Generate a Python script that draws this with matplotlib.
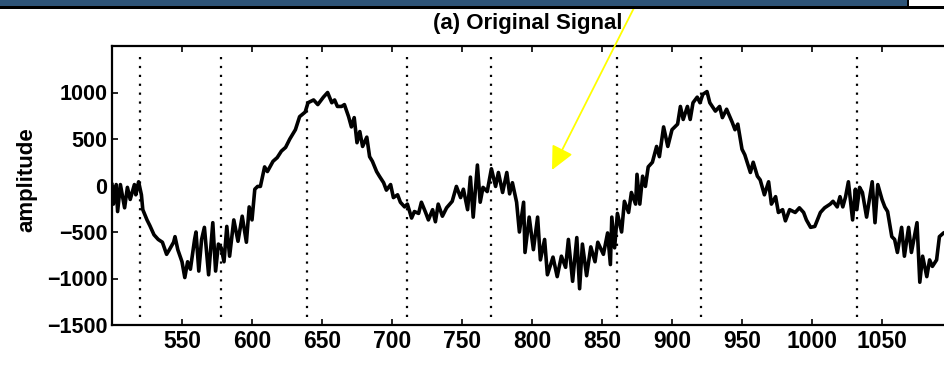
import matplotlib

matplotlib.use("Agg")
import matplotlib.pyplot as plt
from matplotlib.patches import Rectangle

# signal vertices (sample index, amplitude)
sample_x = [
    500, 501, 503, 504, 506, 509, 511, 513, 516, 517, 519, 521, 522, 525, 527, 530,
    533, 536, 539, 541, 544, 545, 547, 550, 552, 554, 556, 559, 560, 562, 564, 566,
    569, 571, 572, 574, 576, 578, 580, 582, 584, 587, 590, 593, 596, 598, 600, 602,
    604, 606, 609, 611, 615, 618, 621, 624, 627, 631, 634, 638, 640, 644, 647,
    651, 654, 657, 659, 661, 664, 666, 669, 671, 673, 675, 677, 679, 682, 684, 686,
    689, 691, 694, 696, 699, 701, 704, 706, 709, 711, 714, 716, 719, 721, 724, 726,
    729, 731, 733, 736, 739, 743, 746, 749, 751, 754, 756, 758, 761, 763, 765, 768,
    771, 774, 776, 779, 782, 784, 786, 789, 791, 794, 795, 798, 801,
    804, 806, 809, 811, 815, 818, 821, 824, 826, 829, 832, 834, 836, 839, 842, 845,
    847, 851, 854, 856, 857, 859, 861, 864, 866, 869, 871, 874, 875, 877,
    879, 881, 883, 886, 889, 891, 894, 897, 900, 904, 906, 908, 911, 913, 915, 918,
    920, 922, 925, 927, 931, 934, 936, 939, 943, 945, 947, 950, 952,
    956, 958, 961, 963, 966, 969, 971, 974, 976, 979, 981, 984, 988, 991, 994, 996,
    999, 1002, 1006, 1009, 1013, 1015, 1018, 1020,
    1022, 1024, 1026, 1029, 1031, 1032, 1034, 1036, 1039, 1043, 1045, 1047, 1050, 1052,
    1054, 1057, 1059, 1061, 1064, 1066, 1069, 1071, 1075, 1077, 1079, 1082, 1084, 1086,
    1089, 1091, 1094, 1099,
]
amplitude = [
    10, -200, 10, -280, 10, -240, -20, -150, 10, -100, 40, -100, -260, -370, -430, -530,
    -580, -610, -740, -690, -610, -550, -690, -820, -990, -820, -900, -580, -500, -920, -580, -450,
    -960, -580, -400, -920, -630, -670, -820, -440, -760, -370, -600, -330, -610, -230, -370, -40,
    -10, -10, 200, 150, 260, 300, 370, 410, 500, 600, 740, 790, 890, 920, 870,
    950, 1000, 890, 920, 850, 850, 870, 740, 630, 730, 460, 580, 420, 520, 310, 260,
    150, 100, 30, -50, 10, -130, -100, -180, -230, -200, -350, -280, -300, -180, -290, -370,
    -260, -390, -200, -330, -240, -170, -10, -130, -40, -260, 90, -340, 220, -180, -20, -65,
    180, -10, 140, -75, 140, -90, 30, -180, -500, -180, -720, -340, -690,
    -340, -800, -580, -960, -770, -980, -760, -880, -580, -1030, -560, -1110, -630, -970, -660, -820,
    -610, -740, -510, -850, -340, -670, -300, -500, -170, -290, -75, -200, 120, -200,
    100, -10, 200, 250, 420, 310, 630, 420, 600, 660, 850, 710, 850, 710, 890, 950,
    890, 980, 1010, 890, 800, 850, 730, 820, 680, 600, 660, 390, 330,
    140, 250, 100, 60, -100, 40, -200, -120, -290, -260, -380, -260, -290, -240, -290, -370,
    -450, -440, -290, -240, -200, -170, -230, -120,
    -230, -120, 40, -370, -40, -260, -20, -75, -340, 40, -400, 10, -150, -230,
    -280, -550, -580, -720, -450, -760, -450, -720, -400, -1040, -760, -980, -800, -870,
    -800, -550, -510, -480,
]
# dotted markers (sample index)
marker_x = [520, 578, 639, 711, 771, 861, 921, 1032]

x_ticks = [550, 600, 650, 700, 750, 800, 850, 900, 950, 1000, 1050]
y_ticks = [-1500, -1000, -500, 0, 500, 1000]

W, H = 944, 365
FONT = "Liberation Sans"

fig = plt.figure(figsize=(W / 100, H / 100), dpi=100)
fig.patch.set_facecolor("white")

# scanned page header strip
fig.patches.append(Rectangle((0, 1 - 6 / H), 909 / W, 6 / H, transform=fig.transFigure,
                             facecolor="#2e5478", edgecolor="none"))
fig.patches.append(Rectangle((0, 1 - 9 / H), 1, 3 / H, transform=fig.transFigure,
                             facecolor="black", edgecolor="none"))
fig.patches.append(Rectangle((907 / W, 1 - 9 / H), 2 / W, 9 / H, transform=fig.transFigure,
                             facecolor="black", edgecolor="none"))

ax = fig.add_axes([112 / W, 40 / H, 840 / W, 279 / H])
ax.plot(sample_x, amplitude, color="black", lw=2.6, solid_joinstyle="round")
ax.vlines(marker_x, -1410, 1410, colors="black", lw=1.6, linestyles=(0, (1, 3)))

ax.set_xlim(500, 1100)
ax.set_ylim(-1500, 1500)
ax.set_xticks(x_ticks)
ax.set_yticks(y_ticks)
ax.tick_params(direction="in", length=4.5, width=1.2, top=True, right=True, pad=3.5)
for lab in ax.get_yticklabels():
    lab.set_fontfamily(FONT)
    lab.set_fontweight("bold")
    lab.set_fontsize(15.5)
for lab in ax.get_xticklabels():
    lab.set_fontfamily(FONT)
    lab.set_fontweight("bold")
    lab.set_fontsize(16.5)
for sp in ax.spines.values():
    sp.set_linewidth(1.6)

fig.text(528 / W, 1 - 24 / H, "(a) Original Signal", ha="center", va="center",
         fontsize=16, fontweight="bold", family=FONT)
fig.text(27 / W, 1 - 180 / H, "amplitude", rotation=90, ha="center", va="center",
         fontsize=16, fontweight="bold", family=FONT)

# yellow pointer arrow
ax.annotate("", xy=(552 / W, 1 - 170 / H), xycoords="figure fraction",
            xytext=(639 / W, 1 + 2 / H), textcoords="figure fraction",
            arrowprops=dict(arrowstyle="-|>,head_length=1.0,head_width=0.48",
                            mutation_scale=14.4, color="#ffff00", lw=1.3,
                            shrinkA=0, shrinkB=0),
            annotation_clip=False)

fig.savefig("out.png", dpi=100)
